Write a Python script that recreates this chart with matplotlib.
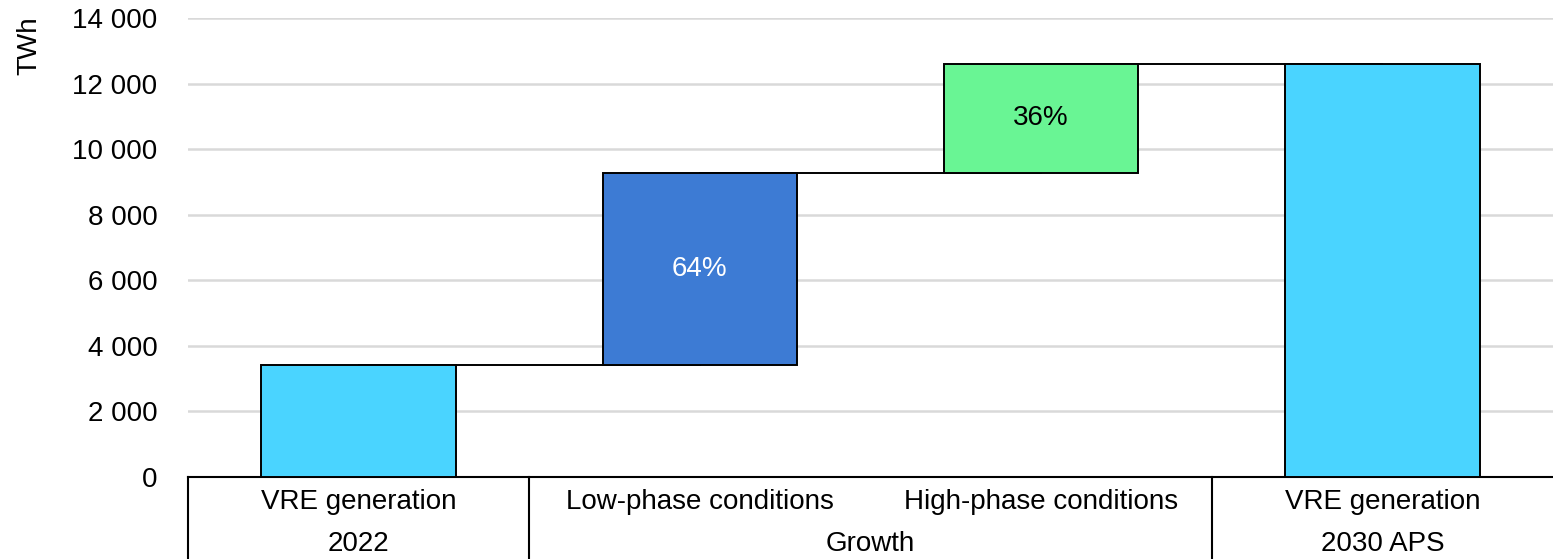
import matplotlib
matplotlib.use("Agg")
import matplotlib.pyplot as plt
from matplotlib.ticker import FuncFormatter

plt.rcParams['font.family'] = ['Liberation Sans', 'DejaVu Sans']

# datos del grafico (TWh)
etapas = ["VRE generation 2022", "Low-phase conditions", "High-phase conditions", "VRE generation 2030 APS"]
inicio = 3420
crecimiento = [5850, 3330]
etiquetas_pct = ["64%", "36%"]
fila1 = ["VRE generation", "Low-phase conditions", "High-phase conditions", "VRE generation"]
grupos = ["2022", "Growth", "2030 APS"]
yticks = [0, 2000, 4000, 6000, 8000, 10000, 12000, 14000]

cian = "#4AD4FF"
azul = "#3D7BD4"
verde = "#69F594"

total = inicio + sum(crecimiento)
bases = [0, inicio, inicio + crecimiento[0], 0]
alturas = [inicio, crecimiento[0], crecimiento[1], total]
colores = [cian, azul, verde, cian]
x = list(range(len(etapas)))

fig = plt.figure(figsize=(15.53, 5.59), dpi=100)
ax = fig.add_axes([188/1553, 1 - 477/559, 1 - 188/1553, 459/559])

ax.set_yticks(yticks)
ax.yaxis.grid(True, color="#D9D9D9", lw=1.8, zorder=0)
ax.set_axisbelow(True)

# conectores entre barras
niveles = [inicio, inicio + crecimiento[0], total]
for i, nivel in enumerate(niveles):
    ax.plot([x[i], x[i + 1]], [nivel, nivel], color="black", lw=1.4, zorder=2)

ax.bar(x, alturas, bottom=bases, width=0.57, color=colores,
       edgecolor="black", linewidth=1.4, zorder=3)

# porcentajes
ax.text(x[1], bases[1] + alturas[1] / 2, etiquetas_pct[0], ha="center", va="center",
        color="white", fontsize=20, zorder=4)
ax.text(x[2], bases[2] + alturas[2] / 2, etiquetas_pct[1], ha="center", va="center",
        color="black", fontsize=20, zorder=4)

ax.set_xlim(-0.5, 3.5)
ax.set_ylim(0, 14000)
ax.yaxis.set_major_formatter(FuncFormatter(lambda v, p: f"{int(v):,}".replace(",", " ")))
ax.tick_params(axis="y", length=0, pad=22, labelsize=20)
ax.set_xticks([])
for s in ["top", "right", "left"]:
    ax.spines[s].set_visible(False)
ax.spines["bottom"].set_linewidth(1.5)

ax.set_ylabel("TWh", fontsize=20)
ax.yaxis.set_label_coords(-0.107, 0.94)

# tabla de categorias bajo el eje
tr = ax.get_xaxis_transform()
y1 = -25 / 459
y2 = -67 / 459
yb = -84 / 459
for xs in [-0.5, 0.5, 2.5]:
    ax.plot([xs, xs], [0, yb], color="black", lw=1.5, transform=tr, clip_on=False)
for i, t in enumerate(fila1):
    ax.text(x[i], y1, t, ha="center", va="center", fontsize=20, transform=tr)
ax.text(0, y2, grupos[0], ha="center", va="center", fontsize=20, transform=tr)
ax.text(1.5, y2, grupos[1], ha="center", va="center", fontsize=20, transform=tr)
ax.text(3, y2, grupos[2], ha="center", va="center", fontsize=20, transform=tr)

fig.savefig("out.png", dpi=100)
